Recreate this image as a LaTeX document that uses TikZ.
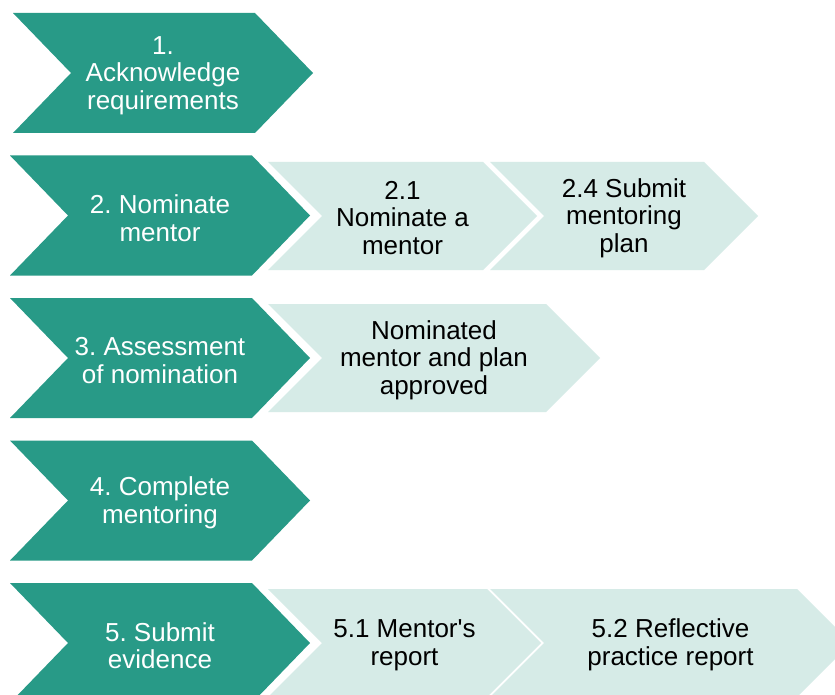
\documentclass[tikz,border=0pt]{standalone}
\usepackage{fontspec}
\setmainfont{Liberation Sans}
\frenchspacing
\definecolor{stepdark}{RGB}{40,154,135}
\definecolor{steplight}{RGB}{214,235,231}
% chevron: colour, left x, centre y, width, height, point depth
\newcommand\chevronshape[6]{%
  \fill[#1] (#2,#3-#5/2) -- (#2+#4-#6,#3-#5/2) -- (#2+#4,#3)
    -- (#2+#4-#6,#3+#5/2) -- (#2,#3+#5/2) -- (#2+#6,#3) -- cycle;}
\begin{document}
\begin{tikzpicture}[x=1pt,y=-1pt,
  maintext/.style={text=white, align=center, inner sep=0pt,
    font=\fontsize{26}{27.5}\selectfont},
  subtext/.style={text=black, align=center, inner sep=0pt,
    font=\fontsize{26}{27.5}\selectfont}]
\clip (0,0) rectangle (835,695);
\fill[white] (0,0) rectangle (835,695);

% main steps
\chevronshape{stepdark}{13}{73}{300}{120}{58}
\chevronshape{stepdark}{10}{215.5}{300}{120}{58}
\chevronshape{stepdark}{10}{358}{300}{120}{58}
\chevronshape{stepdark}{10}{500.5}{300}{120}{58}
\chevronshape{stepdark}{10}{643}{300}{120}{58}

% sub-steps
\chevronshape{steplight}{268}{216}{269}{108}{54}
\chevronshape{steplight}{490}{216}{268}{108}{54}
\chevronshape{steplight}{268}{358}{332}{108}{54}
\chevronshape{steplight}{268}{643}{273}{108}{54}
\chevronshape{steplight}{490}{643}{361}{108}{54}

\node[maintext] (s1) at (163,75.5) {1.\\Acknowledge\\requirements};
\node[maintext] (s2) at (160,218) {2. Nominate\\mentor};
\node[maintext] (s3) at (160,360.5) {3. Assessment\\of nomination};
\node[maintext] (s4) at (160,503) {4. Complete\\mentoring};
\node[maintext] (s5) at (160,645.5) {5. Submit\\evidence};

\node[subtext] (s21) at (402.5,218) {2.1\\Nominate a\\mentor};
\node[subtext] (s24) at (624,218) {2.4 Submit\\mentoring\\plan};
\node[subtext] (s31) at (434,360) {Nominated\\mentor and plan\\approved};
\node[subtext] (s51) at (404.5,645) {5.1 Mentor\textquotesingle s\\report};
\node[subtext] (s52) at (670.5,645) {5.2 Reflective\\practice report};
\end{tikzpicture}
\end{document}
